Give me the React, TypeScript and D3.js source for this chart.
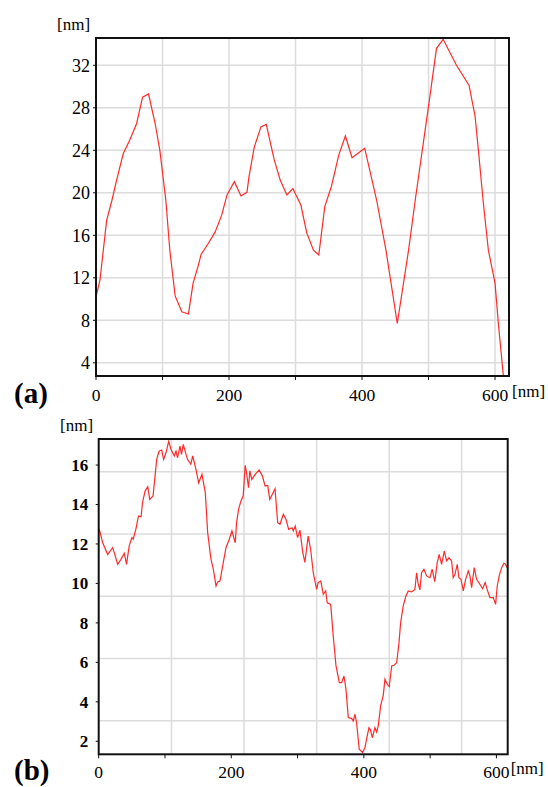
import React from 'react';
import * as d3 from 'd3';

// profile (a): distance [nm] and height [nm]
const profileAX = [0, 6, 16, 24, 31, 41, 51, 61, 70, 79, 89, 96, 105, 111, 119, 129, 139, 146, 154, 158, 169, 179, 189, 197, 208, 218, 227, 230, 238, 248, 256, 268, 277, 287, 296, 308, 317, 327, 335, 344, 354, 365, 375, 385, 404, 422, 436, 453, 470, 480, 502, 512, 522, 542, 561, 570, 575, 582, 590, 600, 605, 614];
const profileAZ = [10.2, 11.8, 17.4, 19.3, 21.2, 23.7, 25.0, 26.5, 29.0, 29.3, 26.5, 24.0, 19.3, 14.6, 10.3, 8.8, 8.6, 11.5, 13.2, 14.2, 15.25, 16.3, 17.9, 19.8, 21.05, 19.7, 20.05, 21.5, 24.3, 26.2, 26.45, 23.1, 21.2, 19.8, 20.4, 18.85, 16.2, 14.6, 14.15, 18.7, 20.6, 23.55, 25.35, 23.3, 24.2, 19.3, 14.6, 7.7, 14.6, 19.3, 29.05, 33.6, 34.45, 32.0, 30.1, 27.2, 24.0, 19.3, 14.6, 11.5, 7.7, 1.8];

// profile (b)
const profileBX = [1, 6, 13.6, 21, 23.5, 28.6, 33.6, 38.6, 42, 46, 50, 52, 56, 60, 64, 66, 70, 74, 77, 82, 85, 87.5, 91, 95, 98, 101.5, 105.6, 109, 114, 116.6, 119, 122.6, 125, 127.6, 131.7, 134, 139, 141.8, 146.7, 150.8, 155.8, 160.8, 164.4, 169.4, 172.9, 177, 179.5, 183, 187, 192, 197, 201, 206, 208, 211, 214.6, 218, 221, 223, 226, 228, 231, 236, 242, 247, 251, 255, 258, 262, 266, 270, 273.5, 278.5, 282.5, 286.6, 291.6, 293.5, 296.5, 300, 303.6, 307.7, 311, 316, 319.7, 323.7, 328.8, 331, 335, 338.8, 342.4, 344.8, 350, 353.8, 358, 363, 366.5, 370, 373, 376.5, 381.6, 384, 386.6, 389, 393, 398, 401.7, 404, 407.7, 410, 412.7, 416.7, 419.3, 421.7, 425.3, 429.3, 431.8, 435.3, 438.3, 442, 445.4, 449.5, 453, 455.5, 459.4, 463.5, 467, 472, 477, 479.6, 482, 484.6, 487, 490.6, 494.7, 499.7, 503, 507, 510.7, 513.7, 517.3, 521.3, 524.9, 528.4, 532.4, 534.8, 537.4, 540.9, 543.4, 546.5, 550, 553.5, 557.5, 560, 562.6, 566.5, 570.1, 575, 579.2, 583, 586, 590.2, 595.2, 598.8, 601.2, 604.2, 607.8, 611.3, 613.8, 616.2];
const profileBZ = [12.74, 12.06, 11.47, 11.81, 11.56, 10.97, 11.22, 11.53, 10.97, 11.9, 12.32, 12.24, 12.74, 13.42, 13.38, 14.09, 14.68, 14.9, 14.26, 14.43, 15.44, 16.29, 16.7, 16.76, 16.29, 16.62, 17.2, 16.8, 16.46, 16.71, 16.37, 16.96, 16.54, 17.05, 16.54, 16.29, 16.04, 16.46, 15.78, 15.1, 15.53, 14.6, 12.57, 11.22, 10.72, 9.87, 10.07, 10.12, 10.88, 11.81, 12.24, 12.66, 12.06, 13.08, 13.75, 14.18, 14.43, 15.99, 15.61, 14.85, 15.7, 15.27, 15.53, 15.75, 15.44, 14.94, 14.97, 14.26, 14.52, 14.8, 13.08, 13.0, 13.5, 13.25, 12.74, 12.82, 12.66, 12.91, 12.32, 12.7, 11.6, 11.07, 12.4, 11.73, 10.54, 9.7, 10.04, 10.12, 9.45, 9.62, 9.02, 8.94, 7.34, 5.82, 4.97, 4.97, 5.31, 4.64, 3.2, 3.15, 3.03, 3.37, 2.95, 1.6, 1.43, 1.68, 2.1, 2.69, 2.58, 2.18, 2.69, 2.47, 2.78, 3.79, 4.33, 5.14, 4.89, 4.77, 5.82, 5.85, 5.98, 7.0, 8.01, 8.86, 9.36, 9.62, 9.57, 9.7, 10.54, 9.96, 9.67, 10.54, 10.72, 10.38, 10.29, 10.72, 10.09, 11.05, 11.47, 10.97, 11.64, 11.14, 11.3, 11.14, 10.29, 10.46, 10.97, 10.29, 10.21, 9.62, 10.21, 10.63, 10.38, 9.78, 10.8, 10.21, 9.96, 9.73, 10.04, 9.7, 9.28, 9.28, 8.94, 9.87, 10.38, 10.8, 11.02, 10.97, 10.8];

const ticksAX = [0, 100, 200, 300, 400, 500, 600];
const labelsAX = [0, 200, 400, 600];
const ticksAY = [4, 8, 12, 16, 20, 24, 28, 32];

const ticksBX = [0, 100, 200, 300, 400, 500, 600];
const labelsBX = [0, 200, 400, 600];
const ticksBY = [2, 4, 6, 8, 10, 12, 14, 16];
// the grid of (b) does not follow its ticks
const gridBX = [109.8, 219.2, 328.8, 438.3, 547.5];
const gridBY = [15.66, 12.5, 9.35, 6.19, 3.04];

const FONT = "'Liberation Serif', 'Times New Roman', Times, serif";

type PanelProps = {
  id: string;
  box: { left: number; top: number; right: number; bottom: number };
  xDomain: [number, number];
  yDomain: [number, number];
  xs: number[];
  zs: number[];
  xTicks: number[];
  xLabels: number[];
  yTicks: number[];
  xGrid: number[];
  yGrid: number[];
  yBold: boolean;
  yLabelGap: number;
  letter: string;
  letterY: number;
  xLabelY: number;
  xUnitY: number;
  yUnitY: number;
  yUnitX: number;
};

function Panel(p: PanelProps) {
  const { left, top, right, bottom } = p.box;
  const x = d3.scaleLinear().domain(p.xDomain).range([left, right]);
  const y = d3.scaleLinear().domain(p.yDomain).range([bottom, top]);
  const pts = p.xs.map((v, i) => [v, p.zs[i]] as [number, number]);
  const line = d3.line<[number, number]>().x(d => x(d[0])).y(d => y(d[1]));
  const txt = { fontFamily: FONT };

  return (
    <g>
      <defs>
        <clipPath id={p.id}>
          <rect x={left} y={top} width={right - left} height={bottom - top} />
        </clipPath>
      </defs>
      <rect x={left} y={top} width={right - left} height={bottom - top} fill="#fff" />
      {p.xGrid.map(v => (
        <line key={'gx' + v} x1={x(v)} x2={x(v)} y1={top} y2={bottom} stroke="#dcdcdc" strokeWidth={1.5} />
      ))}
      {p.yGrid.map(v => (
        <line key={'gy' + v} x1={left} x2={right} y1={y(v)} y2={y(v)} stroke="#dcdcdc" strokeWidth={1.5} />
      ))}
      <path d={line(pts) || ''} fill="none" stroke="#ff2a2a" strokeWidth={1.2} clipPath={`url(#${p.id})`} />
      <rect x={left} y={top} width={right - left} height={bottom - top} fill="none" stroke="#111" strokeWidth={2} />
      {p.xTicks.map(v => (
        <line key={'tx' + v} x1={x(v)} x2={x(v)} y1={bottom} y2={bottom + 4} stroke="#111" strokeWidth={1} />
      ))}
      {p.yTicks.map(v => (
        <line key={'ty' + v} x1={left - 3} x2={left} y1={y(v)} y2={y(v)} stroke="#111" strokeWidth={1} />
      ))}
      <g fill="#000">
        {p.xLabels.map(v => (
          <text key={'lx' + v} x={x(v)} y={p.xLabelY} style={txt} fontSize={17.5} textAnchor="middle">{v}</text>
        ))}
        {p.yTicks.map(v => (
          <text key={'ly' + v} x={left - p.yLabelGap} y={y(v)} dy="0.35em" style={txt} fontSize={p.yBold ? 17 : 18}
            fontWeight={p.yBold ? 'bold' : 'normal'} textAnchor="end">{v}</text>
        ))}
        <text x={right + 3} y={p.xUnitY} style={txt} fontSize={17}>[nm]</text>
        <text x={p.yUnitX} y={p.yUnitY} style={txt} fontSize={17}>[nm]</text>
        <text x={14} y={p.letterY} style={txt} fontSize={29} fontWeight="bold">{p.letter}</text>
      </g>
    </g>
  );
}

export default function App() {
  return (
    <div style={{ position: 'absolute', left: 0, top: 0 }}>
      <svg width={548} height={787} style={{ display: 'block', background: '#fff' }}>
        <Panel
          id="clipA"
          box={{ left: 96, top: 38, right: 509, bottom: 376 }}
          xDomain={[0, 621]}
          yDomain={[2.76, 34.57]}
          xs={profileAX}
          zs={profileAZ}
          xTicks={ticksAX}
          xLabels={labelsAX}
          yTicks={ticksAY}
          xGrid={ticksAX.slice(1)}
          yGrid={ticksAY}
          yBold={false}
          yLabelGap={6}
          letter="(a)"
          letterY={403}
          xLabelY={401}
          xUnitY={397}
          yUnitY={29.5}
          yUnitX={57}
        />
        <Panel
          id="clipB"
          box={{ left: 98.7, top: 439, right: 507.7, bottom: 754.3 }}
          xDomain={[0, 617]}
          yDomain={[1.34, 17.32]}
          xs={profileBX}
          zs={profileBZ}
          xTicks={ticksBX}
          xLabels={labelsBX}
          yTicks={ticksBY}
          xGrid={gridBX}
          yGrid={gridBY}
          yBold={true}
          yLabelGap={10.5}
          letter="(b)"
          letterY={780}
          xLabelY={778}
          xUnitY={774}
          yUnitY={431}
          yUnitX={60}
        />
      </svg>
    </div>
  );
}
